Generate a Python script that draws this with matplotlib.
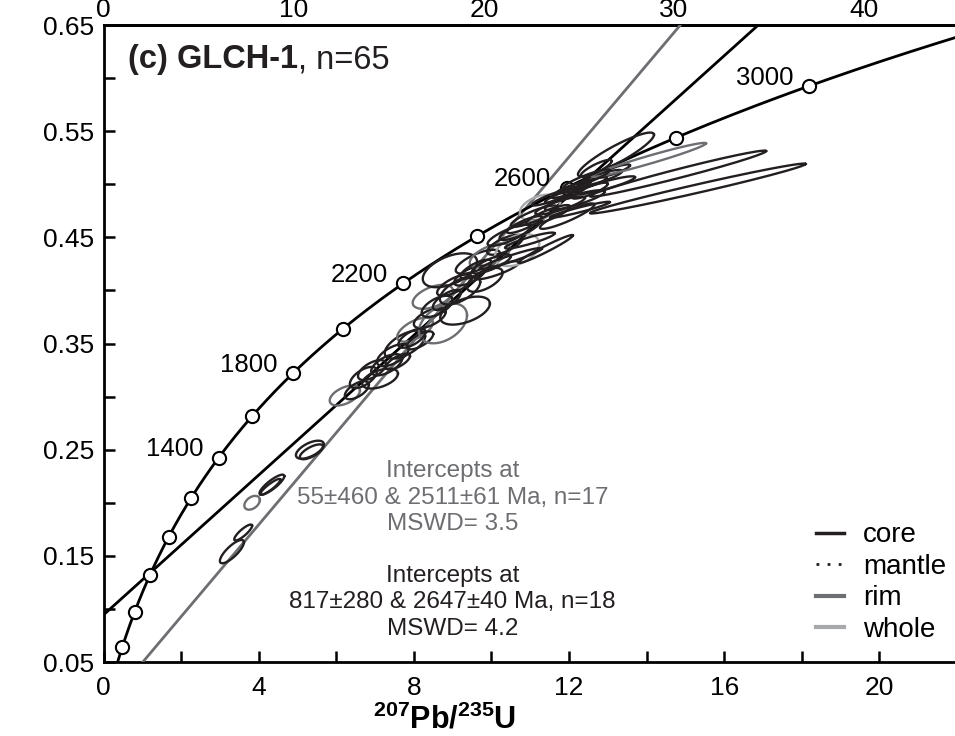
import numpy as np
import matplotlib.pyplot as plt
from matplotlib.lines import Line2D

plt.rcParams['font.family'] = ['Liberation Sans', 'DejaVu Sans']
plt.rcParams['mathtext.fontset'] = 'custom'
plt.rcParams['mathtext.bf'] = 'Liberation Sans:bold'
plt.rcParams['mathtext.rm'] = 'Liberation Sans:bold'

# decay constants (1/yr)
LAM238 = 1.55125e-10
LAM235 = 9.8485e-10

# concordia age markers and labels (Ma)
marker_ages = [400, 600, 800, 1000, 1200, 1400, 1600, 1800, 2000, 2200, 2400, 2600, 2800, 3000]
label_ages = [1400, 1800, 2200, 2600, 3000]

# discordia intercepts (Ma)
core_int = (817, 2647)
rim_int = (55, 2511)

# error ellipses: 207Pb/235U, half-width, 206Pb/238U, half-height, rho, group
ell_x = [5.32, 5.36, 4.34, 4.30, 3.83, 3.60, 3.31,
         6.22, 6.53, 6.92, 7.13, 7.46, 7.77, 7.59, 8.03, 8.16, 8.41,
         8.75, 8.49, 8.93, 8.85, 9.19, 9.32, 9.45, 9.65, 9.83, 9.96,
         10.14, 10.35, 10.66, 10.73, 10.99, 11.25, 11.40, 11.46, 11.77, 11.90,
         12.15, 12.33, 12.54, 12.80, 12.93, 13.18, 12.28,
         13.21, 14.06, 14.81, 15.32,
         9.05, 9.60, 10.00, 10.45, 10.85, 11.10, 11.60, 12.05, 12.45, 11.95,
         8.60, 7.95, 7.30, 6.70, 10.50, 12.70]
ell_sx = [0.36, 0.30, 0.32, 0.26, 0.20, 0.23, 0.31,
          0.39, 0.31, 0.36, 0.46, 0.41, 0.52, 0.31, 0.46, 0.34, 0.41,
          0.62, 0.52, 0.70, 0.36, 0.52, 0.64, 0.41, 0.57, 0.46, 0.52,
          0.57, 0.46, 0.57, 0.52, 0.64, 0.52, 0.70, 0.57, 0.64, 0.52,
          0.77, 0.64, 0.46, 0.57, 0.77, 0.39, 0.77,
          0.98, 1.47, 2.27, 2.78,
          0.45, 0.40, 0.50, 0.55, 0.45, 0.60, 0.55, 0.50, 0.60, 0.70,
          0.40, 0.35, 0.40, 0.35, 0.80, 0.40]
ell_y = [0.250, 0.248, 0.217, 0.215, 0.200, 0.172, 0.154,
         0.301, 0.306, 0.325, 0.317, 0.339, 0.349, 0.333, 0.363, 0.353, 0.374,
         0.369, 0.394, 0.419, 0.391, 0.400, 0.381, 0.414, 0.427, 0.410, 0.433,
         0.419, 0.443, 0.438, 0.457, 0.447, 0.478, 0.439, 0.471, 0.480, 0.490,
         0.485, 0.499, 0.494, 0.506, 0.499, 0.513, 0.476,
         0.528, 0.523, 0.510, 0.496,
         0.405, 0.420, 0.425, 0.452, 0.462, 0.470, 0.488, 0.495, 0.505, 0.470,
         0.385, 0.355, 0.330, 0.318, 0.430, 0.515]
ell_sy = [0.0085, 0.0070, 0.0095, 0.0075, 0.0065, 0.0075, 0.0110,
          0.0094, 0.0085, 0.0094, 0.0094, 0.0104, 0.0132, 0.0075, 0.0113, 0.0085, 0.0094,
          0.0188, 0.0113, 0.0160, 0.0094, 0.0132, 0.0132, 0.0094, 0.0113, 0.0113, 0.0113,
          0.0085, 0.0094, 0.0151, 0.0094, 0.0075, 0.0122, 0.0132, 0.0094, 0.0085, 0.0075,
          0.0094, 0.0075, 0.0075, 0.0075, 0.0085, 0.0057, 0.0075,
          0.0207, 0.0160, 0.0217, 0.0235,
          0.0100, 0.0090, 0.0090, 0.0100, 0.0080, 0.0100, 0.0080, 0.0080, 0.0090, 0.0120,
          0.0100, 0.0090, 0.0100, 0.0100, 0.0100, 0.0080]
ell_rho = [0.60, 0.70, 0.85, 0.90, 0.40, 0.85, 0.80,
           0.50, 0.60, 0.60, 0.50, 0.60, 0.60, 0.70, 0.60, 0.70, 0.60,
           0.40, 0.50, 0.50, 0.70, 0.60, 0.50, 0.70, 0.70, 0.60, 0.60,
           0.85, 0.70, 0.40, 0.80, 0.90, 0.40, 0.97, 0.85, 0.85, 0.90,
           0.85, 0.90, 0.85, 0.85, 0.90, 0.85, 0.95,
           0.90, 0.97, 0.98, 0.985,
           0.70, 0.75, 0.80, 0.80, 0.85, 0.85, 0.90, 0.90, 0.90, 0.90,
           0.60, 0.65, 0.60, 0.60, 0.95, 0.85]
ell_group = ['core', 'core', 'core', 'core', 'rim', 'core', 'core',
             'rim', 'core', 'core', 'core', 'core', 'core', 'core', 'rim', 'core', 'core',
             'rim', 'rim', 'core', 'core', 'core', 'core', 'core', 'core', 'core', 'rim',
             'core', 'core', 'whole', 'core', 'core', 'whole', 'core', 'core', 'core', 'core',
             'core', 'core', 'core', 'core', 'core', 'core', 'core',
             'core', 'rim', 'core', 'core',
             'core', 'core', 'core', 'core', 'core', 'core', 'core', 'core', 'core', 'core',
             'core', 'core', 'core', 'core', 'core', 'core']

top_ticks = [0, 10, 20, 30, 40]

group_style = {
    'core': dict(color='#231f20', ls='-'),
    'mantle': dict(color='#231f20', ls=(0, (1, 3))),
    'rim': dict(color='#6d6e71', ls='-'),
    'whole': dict(color='#a7a9ac', ls='-'),
}


def ratios(age_ma):
    t = np.asarray(age_ma, dtype=float) * 1e6
    return np.exp(LAM235 * t) - 1, np.exp(LAM238 * t) - 1


fig = plt.figure(figsize=(9.55, 7.36), dpi=100)
ax = fig.add_axes([0.1084, 0.1005, 0.8916, 0.8655])
XMAX = 21.95
ax.set_xlim(0, XMAX)
ax.set_ylim(0.05, 0.65)

# discordia lines
for (lo, hi), col in [(core_int, '#000000'), (rim_int, '#6d6e71')]:
    x0, y0 = ratios(lo)
    x1, y1 = ratios(hi)
    k = (y1 - y0) / (x1 - x0)
    xs = np.array([-1.0, 30.0])
    ax.plot(xs, y0 + k * (xs - x0), color=col, lw=2.0, zorder=3.5)

# concordia
cx, cy = ratios(np.linspace(0, 3400, 500))
ax.plot(cx, cy, color='k', lw=2.0, zorder=4)
mx, my = ratios(marker_ages)
ax.plot(mx, my, 'o', ms=9.5, mfc='white', mec='k', mew=1.5, zorder=5)
for a in label_ages:
    lx, ly = ratios(a)
    ax.annotate(str(a), (lx, ly), xytext=(-32, 6), textcoords='offset points',
                ha='center', va='center', fontsize=18.5, zorder=6)

# error ellipses (drawn over the concordia, as in the original)
tt = np.linspace(0, 2 * np.pi, 150)
for x, sx, y, sy, r, g in zip(ell_x, ell_sx, ell_y, ell_sy, ell_rho, ell_group):
    ex = x + sx * np.cos(tt)
    ey = y + sy * (r * np.cos(tt) + np.sqrt(1 - r ** 2) * np.sin(tt))
    st = group_style[g]
    ax.plot(ex, ey, color=st['color'], ls=st['ls'], lw=1.7, zorder=5.5)

# panel title
t1 = ax.text(0.0288, 0.9215, '(c) GLCH-1', transform=ax.transAxes, fontsize=23.5,
             fontweight='bold', va='bottom', color='#231f20')
ax.annotate(', n=65', xy=(1, 0), xycoords=t1, va='bottom', fontsize=23.5, color='#231f20')

# intercept annotations
ax.text(0.41, 0.258, 'Intercepts at\n55±460 & 2511±61 Ma, n=17\nMSWD= 3.5',
        transform=ax.transAxes, ha='center', va='center', fontsize=17.5,
        color='#6d6e71', linespacing=1.27, multialignment='center')
ax.text(0.41, 0.094, 'Intercepts at\n817±280 & 2647±40 Ma, n=18\nMSWD= 4.2',
        transform=ax.transAxes, ha='center', va='center', fontsize=17.5,
        color='#231f20', linespacing=1.27, multialignment='center')

# legend
handles = [Line2D([], [], lw=2.5, **group_style[g]) for g in ['core', 'mantle', 'rim', 'whole']]
handles[1].set_linewidth(2)
handles[2].set_linewidth(3)
handles[3].set_linewidth(3)
ax.legend(handles, ['core', 'mantle', 'rim', 'whole'], loc='lower right',
          bbox_to_anchor=(0.99, 0.03), frameon=False, fontsize=20,
          handlelength=1.0, handletextpad=0.7, labelspacing=0.2, borderpad=0,
          borderaxespad=0)

# axes styling
ax.set_xticks(np.arange(0, 21, 4))
ax.set_xticks(np.arange(2, 22, 4), minor=True)
ax.set_yticks(np.arange(0.05, 0.66, 0.1))
ax.set_yticks(np.arange(0.10, 0.61, 0.1), minor=True)
ax.yaxis.set_major_formatter(plt.FormatStrFormatter('%.2f'))
ax.tick_params(which='both', direction='in', length=8, width=1.8, labelsize=19)
ax.tick_params(axis='x', pad=10)
ax.tick_params(axis='y', pad=7)
ax.spines['right'].set_visible(False)
for s in ['left', 'bottom', 'top']:
    ax.spines[s].set_linewidth(2)

ax.set_xlabel(r'$^{207}$Pb/$^{235}$U', fontsize=22, fontweight='bold')
ax.xaxis.set_label_coords(0.401, -0.066)

sec = ax.secondary_xaxis('top', functions=(lambda v: v * 2.04, lambda v: v / 2.04))
sec.set_xticks(top_ticks)
sec.tick_params(length=0, labelsize=19, pad=2)
sec.spines['top'].set_linewidth(2)

fig.savefig('out.png', dpi=100)
